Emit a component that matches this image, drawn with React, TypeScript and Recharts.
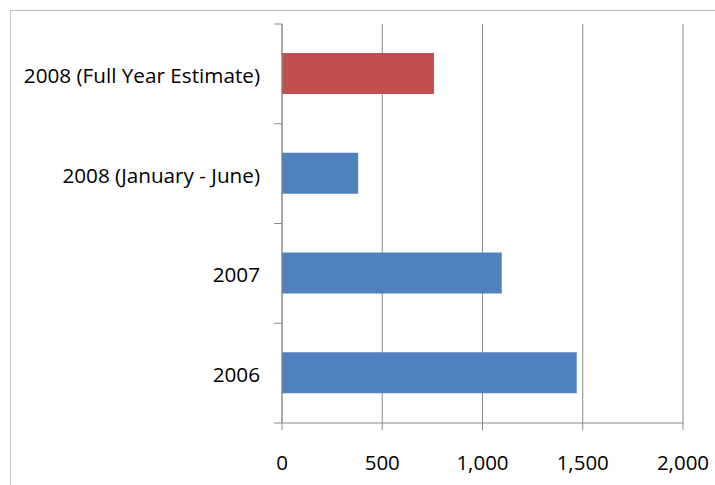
import { Bar, BarChart, CartesianGrid, Cell, XAxis, YAxis } from "recharts";

const categories = ["2008 (Full Year Estimate)", "2008 (January - June)", "2007", "2006"];
const values = [758, 380, 1096, 1470];
const barColors = ["#C0504D", "#4F81BD", "#4F81BD", "#4F81BD"];
const xTicks = [0, 500, 1000, 1500, 2000];

const data = categories.map((name, i) => ({ name, value: values[i] }));

const FONT = "'Open Sans', sans-serif";
const AXIS_GREY = "#8a8a8a";

// Category labels sit at band centres, but the tick marks go on the band edges.
function CategoryTick(props: any) {
  const { x, y, payload } = props;
  const half = payload.offset || 50;
  const isLast = payload.value === categories[categories.length - 1];
  return (
    <g>
      <line x1={x - 8} x2={x} y1={y - half} y2={y - half} stroke={AXIS_GREY} />
      {isLast && <line x1={x - 8} x2={x} y1={y + half} y2={y + half} stroke={AXIS_GREY} />}
      <text x={x - 22} y={y + 1} textAnchor="end" dominantBaseline="central" fill="#000" fontSize={20.7} fontFamily={FONT}>
        {payload.value}
      </text>
    </g>
  );
}

export default function App() {
  return (
    <div style={{ position: "absolute", left: 0, top: 0, width: 715, height: 485, overflow: "hidden", background: "#fff" }}>
      <div
        style={{
          position: "absolute",
          left: 10,
          top: 10,
          width: 720,
          height: 490,
          border: "1px solid #c0c0c0",
        }}
      />
      <BarChart
        width={715}
        height={485}
        data={data}
        layout="vertical"
        margin={{ top: 24, right: 32, bottom: 0, left: 0 }}
        style={{ position: "absolute", left: 0, top: 0, fontFamily: FONT }}
      >
        <CartesianGrid horizontal={false} stroke={AXIS_GREY} />
        <XAxis
          type="number"
          domain={[0, 2000]}
          ticks={xTicks}
          tickFormatter={(v: number) => v.toLocaleString("en-US")}
          height={62}
          tickSize={7}
          tickMargin={25}
          axisLine={{ stroke: AXIS_GREY }}
          tickLine={{ stroke: AXIS_GREY }}
          tick={{ fill: "#000", fontSize: 20.5 }}
        />
        <YAxis
          type="category"
          dataKey="name"
          width={282}
          tickLine={false}
          tickSize={0}
          tickMargin={0}
          axisLine={{ stroke: AXIS_GREY }}
          tick={<CategoryTick />}
          interval={0}
        />
        <Bar dataKey="value" barSize={41} isAnimationActive={false}>
          {data.map((d, i) => (
            <Cell key={d.name} fill={barColors[i]} />
          ))}
        </Bar>
      </BarChart>
    </div>
  );
}
